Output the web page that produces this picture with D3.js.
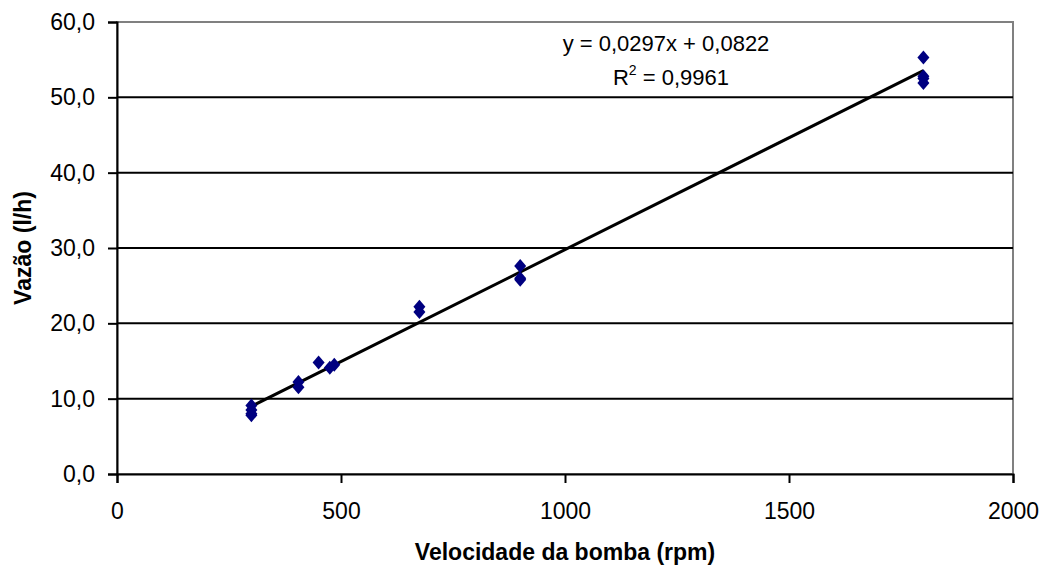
<!DOCTYPE html>
<html>
<head>
<meta charset="utf-8">
<script src="https://cdn.jsdelivr.net/npm/d3@7"></script>
<style>
  body { margin: 0; background: #fff; }
  text { font-family: "Liberation Sans", Arial, sans-serif; }
</style>
</head>
<body>
<div id="chart"></div>
<script>
// measured points: pump speed (rpm) vs flow (l/h)
const rpm = [300, 300, 300, 300, 405, 405, 450, 475, 485, 675, 675, 900, 900, 900, 1800, 1800, 1800, 1800];
const flow = [9.1, 8.5, 8.0, 7.8, 12.2, 11.5, 14.8, 14.1, 14.5, 21.5, 22.2, 27.6, 26.0, 25.8, 55.3, 52.8, 52.5, 51.9];
const slope = 0.0297;
const intercept = 0.0822;
const xTicks = [0, 500, 1000, 1500, 2000];
const yTicks = [0, 10, 20, 30, 40, 50, 60];

const width = 1043, height = 569;
const margin = { top: 22, left: 117, bottom: 95, right: 30 };
const iw = width - margin.left - margin.right;
const ih = height - margin.top - margin.bottom;

const fmt = d => d.toFixed(1).replace(".", ",");

const xScale = d3.scaleLinear().domain([0, 2000]).range([0, iw]);
const yScale = d3.scaleLinear().domain([0, 60]).range([ih, 0]);

const svg = d3.select("#chart").append("svg").attr("width", width).attr("height", height);
const g = svg.append("g").attr("transform", `translate(${margin.left},${margin.top})`);

// frame (top and right in grey)
g.append("rect")
    .attr("x", 0).attr("y", 0).attr("width", iw).attr("height", ih)
    .attr("fill", "none").attr("stroke", "#808080").attr("stroke-width", 2);

// gridlines
g.selectAll("line.grid")
    .data(yTicks.filter(d => d > 0 && d < 60))
    .join("line")
    .attr("class", "grid")
    .attr("x1", 0).attr("x2", iw)
    .attr("y1", d => yScale(d)).attr("y2", d => yScale(d))
    .attr("stroke", "#000").attr("stroke-width", 2);

const yAxis = d3.axisLeft(yScale).tickValues(yTicks).tickFormat(fmt).tickSize(9).tickPadding(13);
const xAxis = d3.axisBottom(xScale).tickValues(xTicks).tickFormat(d3.format("d")).tickSize(9).tickPadding(20);

const ya = g.append("g").call(yAxis);
const xa = g.append("g").attr("transform", `translate(0,${ih})`).call(xAxis);
[ya, xa].forEach(a => {
    a.selectAll("path, line").attr("stroke", "#000").attr("stroke-width", 2);
    a.selectAll("text").attr("font-size", 23).attr("fill", "#000")
        .style("font-family", '"Liberation Sans", Arial, sans-serif');
});

// trendline
const x0 = d3.min(rpm), x1 = d3.max(rpm);
g.append("line")
    .attr("x1", xScale(x0)).attr("y1", yScale(slope * x0 + intercept))
    .attr("x2", xScale(x1)).attr("y2", yScale(slope * x1 + intercept))
    .attr("stroke", "#000").attr("stroke-width", 3);

// points
const diamond = "M0,-7L6,0L0,7L-6,0Z";
g.selectAll("path.pt")
    .data(rpm.map((r, i) => [r, flow[i]]))
    .join("path")
    .attr("class", "pt")
    .attr("d", diamond)
    .attr("transform", d => `translate(${xScale(d[0])},${yScale(d[1])})`)
    .attr("fill", "#000080");

// equation label
const eqX = 666 - margin.left;
g.append("text").attr("x", eqX).attr("y", 29).attr("text-anchor", "middle").attr("font-size", 22)
    .text("y = 0,0297x + 0,0822");
const r2 = g.append("text").attr("x", eqX + 5).attr("y", 63).attr("text-anchor", "middle").attr("font-size", 22);
r2.append("tspan").text("R");
r2.append("tspan").attr("dy", -10).attr("font-size", 14).text("2");
r2.append("tspan").attr("dy", 10).text(" = 0,9961");

// axis titles
svg.append("text")
    .attr("x", margin.left + iw / 2).attr("y", 560)
    .attr("text-anchor", "middle").attr("font-size", 23).attr("font-weight", "bold")
    .text("Velocidade da bomba (rpm)");
svg.append("text")
    .attr("transform", `translate(31,${margin.top + ih / 2}) rotate(-90)`)
    .attr("text-anchor", "middle").attr("font-size", 23).attr("font-weight", "bold")
    .text("Vazão (l/h)");
</script>
</body>
</html>
